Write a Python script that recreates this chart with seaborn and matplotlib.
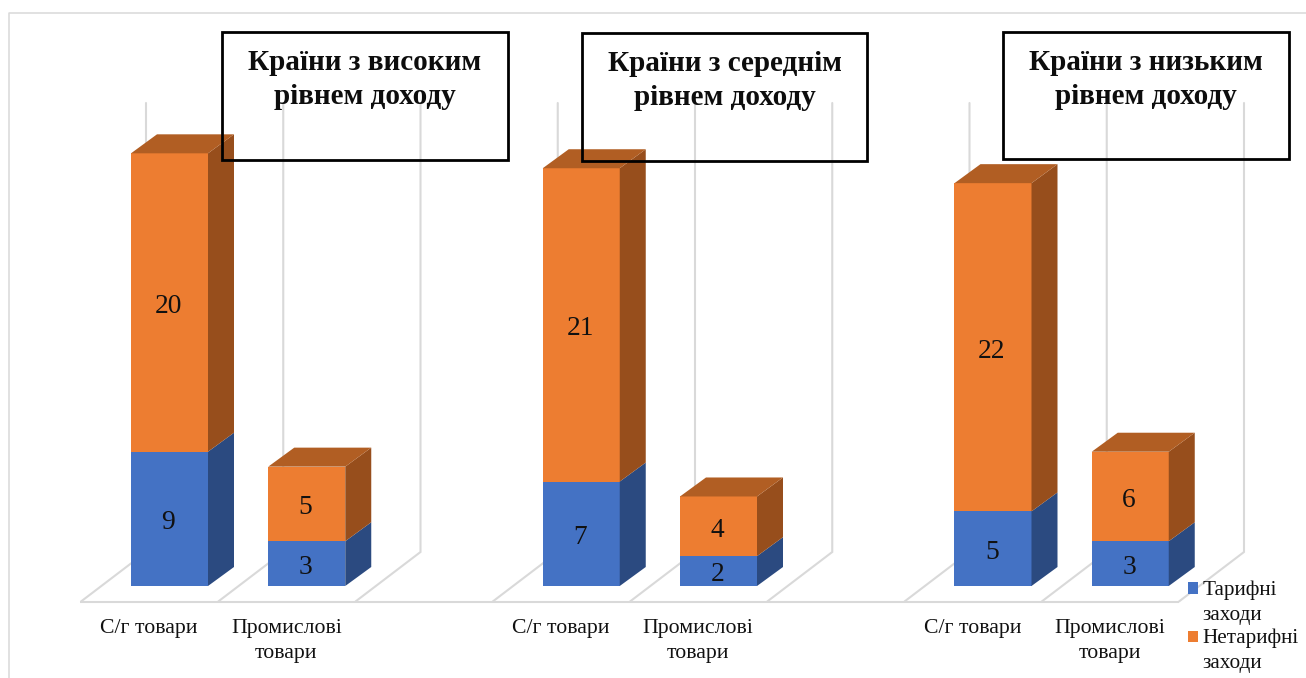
import matplotlib
matplotlib.use("Agg")
import matplotlib.pyplot as plt
from matplotlib.legend_handler import HandlerPatch
from matplotlib.patches import Patch, Rectangle
import pandas as pd
import seaborn as sns

# ---- data ----
slots = ["a1", "a2", "a_", "b1", "b2", "b_", "c1", "c2", "c_"]
products = ["С/г товари", "Промислові\nтовари", "", "С/г товари", "Промислові\nтовари", "",
            "С/г товари", "Промислові\nтовари", ""]
bar_slots = ["a1", "a2", "b1", "b2", "c1", "c2"]
tariff = [9, 3, 7, 2, 5, 3]
non_tariff = [20, 5, 21, 4, 22, 6]
series_names = ["Тарифні\nзаходи", "Нетарифні\nзаходи"]
titles = ["Країни з високим\nрівнем доходу", "Країни з середнім\nрівнем доходу",
          "Країни з низьким\nрівнем доходу"]

# ---- style ----
W, H = 1306, 678
BLUE, ORANGE = "#4472C4", "#ED7D31"
BLUE_SIDE, ORANGE_SIDE, ORANGE_TOP = "#2B4A80", "#974E1C", "#B15E23"
GRID = "#D9D9D9"
SERIF = ["Liberation Serif", "DejaVu Serif"]

sns.set_theme(style="white")
plt.rcParams["font.family"] = SERIF

fig = plt.figure(figsize=(W / 100, H / 100), dpi=100, facecolor="white")
ax = fig.add_axes([0, 0, 1, 1])

PX_X, PX_Y = 137.25, 14.92   # pixels per slot, per value unit
X0, Y0 = 169.5, 586.0        # pixel of slot 0 centre, of value 0
BAR_W = 77 / PX_X
DX, DY = 26 / PX_X, 19 / PX_Y  # bar depth
df = pd.DataFrame({"slot": bar_slots, "tariff": tariff, "non": non_tariff})

sns.barplot(data=df, x="slot", y="tariff", order=slots, color=BLUE, saturation=1,
            width=BAR_W, errorbar=None, ax=ax, zorder=3, linewidth=0)
sns.barplot(data=df, x="slot", y="non", order=slots, color=ORANGE, saturation=1,
            width=BAR_W, errorbar=None, ax=ax, zorder=3, linewidth=0, bottom=tariff)

ax.set_xlim(-X0 / PX_X, (W - X0) / PX_X)
ax.set_ylim((Y0 - H) / PX_Y, Y0 / PX_Y)

# 3-D faces of the bars
for s, t, n in zip(bar_slots, tariff, non_tariff):
    k = slots.index(s)
    r = k + BAR_W / 2
    l = k - BAR_W / 2
    total = t + n
    ax.fill([r, r + DX, r + DX, r], [0, DY, t + DY, t], color=BLUE_SIDE, lw=0, zorder=3)
    ax.fill([r, r + DX, r + DX, r], [t, t + DY, total + DY, total], color=ORANGE_SIDE, lw=0, zorder=3)
    ax.fill([l, l + DX, r + DX, r], [total, total + DY, total + DY, total], color=ORANGE_TOP, lw=0, zorder=3)

# 3-D floor and back walls
FLOOR_Y = -15.5 / PX_Y
BACK_DX, BACK_DY = 65 / PX_X, 49.5 / PX_Y
WALL_TOP = (Y0 - 103) / PX_Y
FIRST = (81 - X0) / PX_X
lw = 1.5
ax.plot([FIRST - 1 / PX_X, FIRST + 8], [FLOOR_Y, FLOOR_Y], color=GRID, lw=lw, zorder=1, solid_capstyle="butt")
for i in range(9):
    x = FIRST + i
    ax.plot([x, x + BACK_DX, x + BACK_DX], [FLOOR_Y, FLOOR_Y + BACK_DY, WALL_TOP],
            color=GRID, lw=lw, zorder=1, solid_joinstyle="miter")

# axis labels and values (labels sit under the front floor edge)
LABEL_SHIFT = -20.5 / PX_X
ax.set_xticks([i + LABEL_SHIFT for i in range(len(slots))])
ax.set_xticklabels(products, fontsize=15.7, color="#111111", linespacing=1.45, family=SERIF)
ax.tick_params(axis="x", length=0, pad=-42.5, bottom=False, labelbottom=True)
ax.xaxis.set_tick_params(direction="in")
ax.set_xlabel("")
ax.set_ylabel("")
ax.set_yticks([])
for sp in ax.spines.values():
    sp.set_visible(False)

for c in ax.containers:
    labels = [f"{v:g}" for v in c.datavalues]
    anns = ax.bar_label(c, labels=labels, label_type="center", fontsize=19.8, color="#111111",
                        family=SERIF, zorder=5, padding=-2.5)
    for a in anns:
        a.xyann = (-0.8, a.xyann[1] - 0.2)

# outer frame
fig.add_artist(plt.Line2D([9 / W, 9 / W, 1], [0, 1 - 12.5 / H, 1 - 12.5 / H], color=GRID, lw=1.1,
                          transform=fig.transFigure))

# title boxes
boxes = [(222, 32, 508, 160), (582, 33, 867, 161), (1003, 32, 1289, 159)]
for (x0, y0, x1, y1), title in zip(boxes, titles):
    fig.add_artist(Rectangle((x0 / W, 1 - y1 / H), (x1 - x0) / W, (y1 - y0) / H, fill=False,
                             ec="black", lw=2.0, transform=fig.transFigure))
    fig.text((x0 + x1) / 2 / W, 1 - (y0 + 47.5) / H, title, ha="center", va="center",
             fontsize=21, fontweight="bold", color="#0d0d0d", linespacing=1.32, family=SERIF)


# legend: swatch aligned with the first text line
def top_swatch(legend, orig_handle, xdescent, ydescent, width, height, fontsize):
    return Rectangle((xdescent, ydescent + 12.5), width, height)


handles = [Patch(color=BLUE, lw=0), Patch(color=ORANGE, lw=0)]
leg = ax.legend(handles, series_names, loc="lower left", bbox_to_anchor=(1188 / W, 1 - 673 / H),
                bbox_transform=fig.transFigure, frameon=False, fontsize=15.2, handlelength=0.47,
                handleheight=0.47, handletextpad=0.23, labelspacing=0.2, borderpad=0, borderaxespad=0,
                labelcolor="#111111",
                handler_map={Patch: HandlerPatch(patch_func=top_swatch)})
for t in leg.get_texts():
    t.set_linespacing(1.4)

fig.savefig("out.png", dpi=100, facecolor="white")
